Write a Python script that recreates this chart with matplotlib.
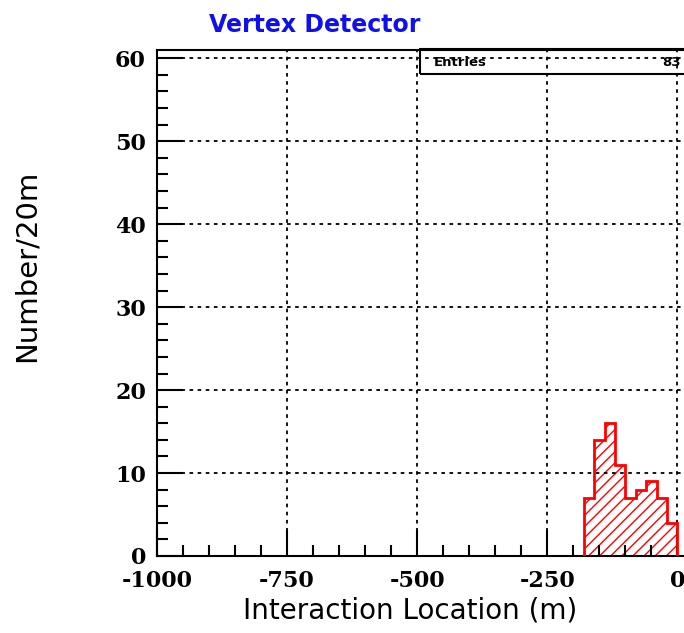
import matplotlib
matplotlib.use("Agg")
import matplotlib.pyplot as plt
from matplotlib.patches import Rectangle
from matplotlib.ticker import MultipleLocator

# histogram contents, 20 m bins
bin_edges = [-180, -160, -140, -120, -100, -80, -60, -40, -20, 0]
counts = [7, 14, 16, 11, 7, 8, 9, 7, 4]
n_entries = 83

title = "Vertex Detector"
x_title = "Interaction Location (m)"
y_title = "Number/20m"

plt.rcParams['hatch.color'] = 'red'
plt.rcParams['hatch.linewidth'] = 1.0
plt.rcParams['axes.unicode_minus'] = False

fig = plt.figure(figsize=(6.84, 6.33), dpi=100)
ax = fig.add_axes([157 / 684, 77 / 633, 536 / 684, 506 / 633])

ax.stairs(counts, bin_edges, fill=True, facecolor='none', edgecolor='red',
          hatch='///', linewidth=0, zorder=2)
ax.stairs(counts, bin_edges, fill=False, color='red', linewidth=2, zorder=3)

ax.set_xlim(-1000, 30)
ax.set_ylim(0, 61)

ax.xaxis.set_major_locator(MultipleLocator(250))
ax.xaxis.set_minor_locator(MultipleLocator(50))
ax.yaxis.set_major_locator(MultipleLocator(10))
ax.yaxis.set_minor_locator(MultipleLocator(2))

ax.tick_params(which='both', direction='in', top=False, right=False, width=1.5)
ax.tick_params(which='major', length=19)
ax.tick_params(which='minor', length=8)
ax.tick_params(axis='y', which='major', pad=8)
ax.tick_params(axis='x', which='major', pad=10)

for lab in ax.get_xticklabels() + ax.get_yticklabels():
    lab.set_fontfamily('DejaVu Serif')
    lab.set_fontweight('bold')
    lab.set_fontsize(16)

ax.grid(True, which='major', color='black', linestyle=(0, (2, 2.5)), linewidth=1.3)
ax.set_axisbelow(False)
for sp in ax.spines.values():
    sp.set_linewidth(1.5)

fig.text(315 / 684, 1 - 25 / 633, title, color='#1010ee', fontsize=17,
         fontweight='bold', ha='center', va='center')
fig.text(410 / 684, 1 - 610 / 633, x_title, fontsize=20,
         ha='center', va='center')
fig.text(27 / 684, 1 - 266 / 633, y_title, fontsize=21, rotation=90,
         ha='center', va='center')

# stats box
box = Rectangle((420 / 684, 1 - 74 / 633), 300 / 684, 25 / 633,
                transform=fig.transFigure, fill=False, edgecolor='black',
                linewidth=1.5, zorder=5)
fig.add_artist(box)
fig.text(434 / 684, 1 - 62 / 633, "Entries", fontsize=9.5, fontweight='bold',
         ha='left', va='center')
fig.text(681 / 684, 1 - 62 / 633, str(n_entries), fontsize=9.5, fontweight='bold',
         ha='right', va='center')

fig.savefig("out.png", dpi=100)
